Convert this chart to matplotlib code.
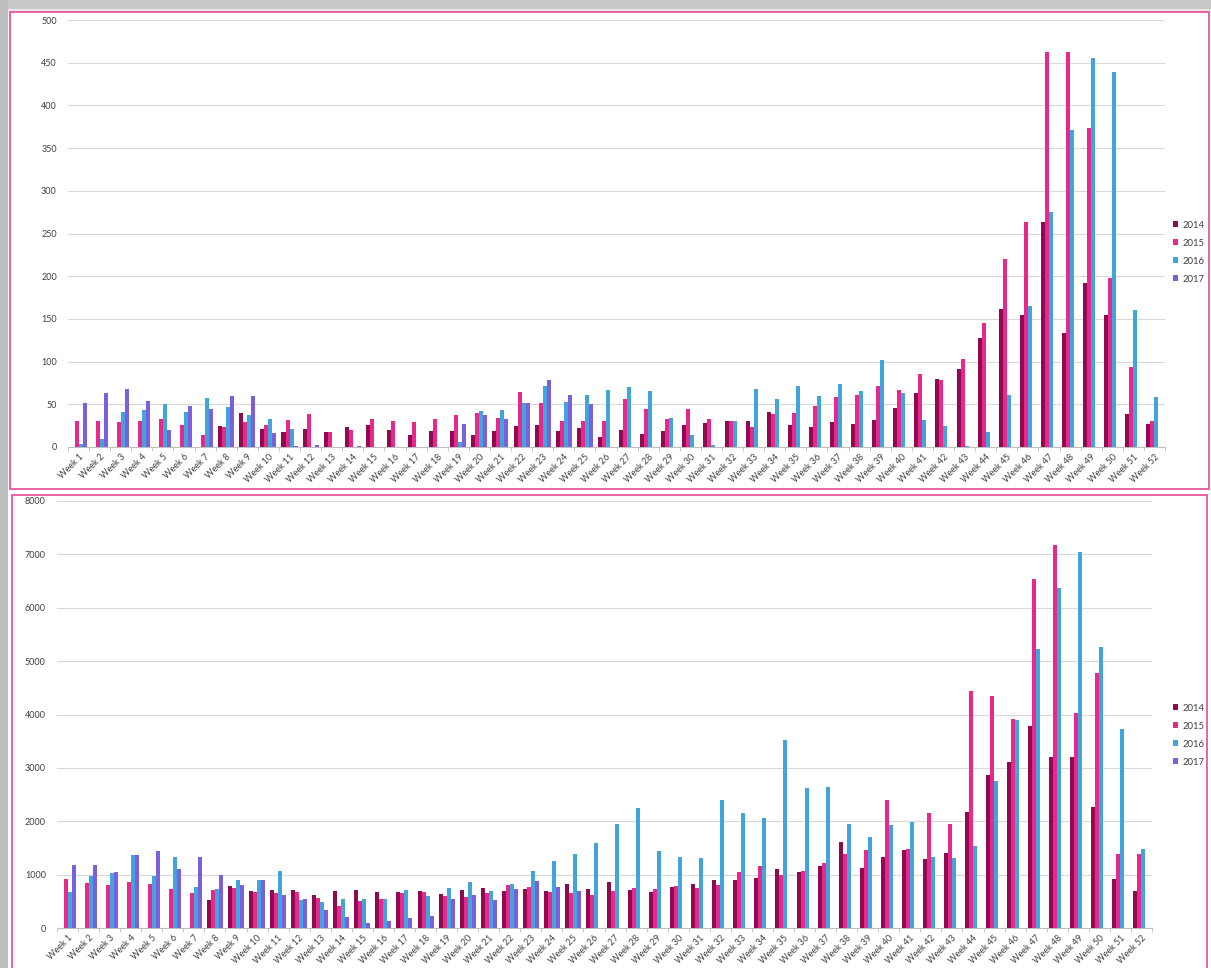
import numpy as np
import matplotlib
matplotlib.use("Agg")
import matplotlib.pyplot as plt
from matplotlib.patches import Rectangle

plt.rcParams["font.family"] = ["Lato", "DejaVu Sans"]

weeks = [f"Week {i}" for i in range(1, 53)]
years = ["2014", "2015", "2016", "2017"]
colors = ["#8E0B52", "#E8288A", "#41A4DC", "#7B5FDD"]

# upper chart
top_2014 = [0, 0, 0, 0, 0, 0, 0, 25, 40, 21, 17, 21, 18, 24, 26, 20, 14, 19, 19, 14,
            19, 25, 26, 19, 22, 12, 20, 15, 19, 26, 28, 31, 31, 41, 26, 24, 29, 27, 32, 46,
            63, 80, 91, 128, 162, 154, 264, 134, 192, 154, 39, 27]
top_2015 = [30, 31, 29, 30, 33, 26, 14, 24, 29, 26, 32, 39, 18, 20, 33, 31, 29, 33, 37, 40,
            34, 64, 52, 30, 31, 31, 56, 44, 33, 45, 33, 31, 24, 39, 40, 48, 58, 61, 71, 67,
            85, 79, 103, 145, 220, 264, 463, 462, 374, 198, 94, 30]
top_2016 = [4, 9, 41, 43, 50, 41, 57, 47, 37, 33, 21, 0, 0, 0, 0, 0, 0, 0, 6, 42,
            43, 51, 72, 53, 61, 67, 70, 65, 34, 14, 2, 31, 68, 56, 71, 60, 74, 65, 102, 63,
            32, 25, 1, 18, 61, 165, 275, 371, 455, 439, 161, 58]
top_2017 = [52, 63, 68, 54, 20, 48, 45, 60, 60, 16, 1, 2, 0, 1, 0, 0, 0, 0, 27, 37,
            33, 51, 78, 61, 50, 0, 0, 0, 0, 0, 0, 0, 0, 0, 0, 0, 0, 0, 0, 0,
            0, 0, 0, 0, 0, 0, 0, 0, 0, 0, 0, 0]

# lower chart
bot_2014 = [0, 0, 0, 0, 0, 0, 0, 524, 786, 693, 711, 711, 624, 699, 711, 680, 680, 686, 637, 711,
            743, 699, 730, 699, 830, 730, 861, 718, 668, 761, 817, 892, 892, 942, 1098, 1042, 1161, 1610, 1130, 1323,
            1460, 1292, 1398, 2172, 2870, 3108, 3788, 3195, 3207, 2259, 924, 686]
bot_2015 = [924, 849, 805, 867, 817, 730, 655, 718, 749, 680, 655, 680, 568, 418, 505, 537, 655, 668, 605, 580,
            655, 799, 768, 668, 655, 612, 686, 743, 730, 786, 743, 805, 1055, 1161, 998, 1073, 1217, 1385, 1460, 2390,
            1485, 2153, 1947, 4443, 4349, 3919, 6534, 7176, 4037, 4780, 1385, 1385]
bot_2016 = [674, 967, 1030, 1367, 980, 1335, 761, 730, 892, 892, 1073, 524, 487, 537, 549, 537, 711, 593, 755, 861,
            699, 830, 1073, 1248, 1379, 1591, 1947, 2240, 1441, 1323, 1310, 2402, 2153, 2059, 3520, 2615, 2646, 1947, 1710, 1934,
            1991, 1335, 1310, 1535, 2752, 3894, 5229, 6365, 7051, 5273, 3732, 1473]
bot_2017 = [1186, 1173, 1042, 1367, 1441, 1105, 1323, 998, 811, 892, 624, 537, 331, 212, 94, 137, 193, 225, 549, 612,
            518, 724, 886, 768, 699, 0, 0, 0, 0, 0, 0, 0, 0, 0, 0, 0, 0, 0, 0, 0,
            0, 0, 0, 0, 0, 0, 0, 0, 0, 0, 0, 0]

W, H = 1211, 968
fig = plt.figure(figsize=(W / 100, H / 100), dpi=100)
fig.patch.set_facecolor("white")


def px_rect(x0, y0, x1, y1, **kw):
    fig.patches.append(Rectangle((x0 / W, 1 - y1 / H), (x1 - x0) / W, (y1 - y0) / H,
                                 transform=fig.transFigure, figure=fig, zorder=-5, **kw))


# excel sheet background bits
px_rect(0, 0, W, 9, facecolor="#c8c8c8", edgecolor="none")
px_rect(0, 0, 8, H, facecolor="#bdbdbd", edgecolor="none")
px_rect(8, 9, W, 12, facecolor="#e6e6e6", edgecolor="none")
# chart borders
px_rect(10, 12, 1209, 489, facecolor="white", edgecolor="#E8579C", lw=1.3)
px_rect(12, 495, 1207, 972, facecolor="white", edgecolor="#E8579C", lw=1.3)


def draw(ax, series, ymax, ystep, legend_y):
    ax.patch.set_alpha(0)
    x = np.arange(len(weeks))
    w = 0.19
    for i, (vals, c, lab) in enumerate(zip(series, colors, years)):
        ax.bar(x + (i - 1.5) * w, vals, width=w, color=c, label=lab, zorder=3, lw=0)
    ax.set_xlim(-0.5, len(weeks) - 0.5)
    ax.set_ylim(0, ymax)
    ax.set_yticks(np.arange(0, ymax + 1, ystep))
    ax.grid(axis="y", color="#D9D9D9", lw=0.8, zorder=0)
    for s in ["top", "right", "left"]:
        ax.spines[s].set_visible(False)
    ax.spines["bottom"].set_color("#BFBFBF")
    ax.set_xticks(x)
    ax.set_xticklabels(weeks, rotation=45, ha="right", rotation_mode="anchor",
                       fontsize=6.5, color="#404040")
    ax.tick_params(axis="x", length=0, pad=4)
    ax.set_xticks(np.arange(-0.5, len(weeks)), minor=True)
    ax.tick_params(axis="x", which="minor", length=3, color="#BFBFBF")
    ax.tick_params(axis="y", length=0, labelsize=6.5, labelcolor="#404040", pad=8)
    ax.legend(loc="upper left", bbox_to_anchor=(1168 / W, 1 - legend_y / H),
              bbox_transform=fig.transFigure, frameon=False, fontsize=6.8,
              handlelength=0.6, handleheight=0.6, handletextpad=0.4,
              labelspacing=0.95, borderpad=0, labelcolor="#404040")


ax1 = fig.add_axes([68 / W, 1 - 447 / H, 1097 / W, 427 / H])
draw(ax1, [top_2014, top_2015, top_2016, top_2017], 500, 50, 216)

ax2 = fig.add_axes([57 / W, 1 - 928 / H, 1095 / W, 427 / H])
draw(ax2, [bot_2014, bot_2015, bot_2016, bot_2017], 8000, 1000, 699)

fig.savefig("out.png", dpi=100)
